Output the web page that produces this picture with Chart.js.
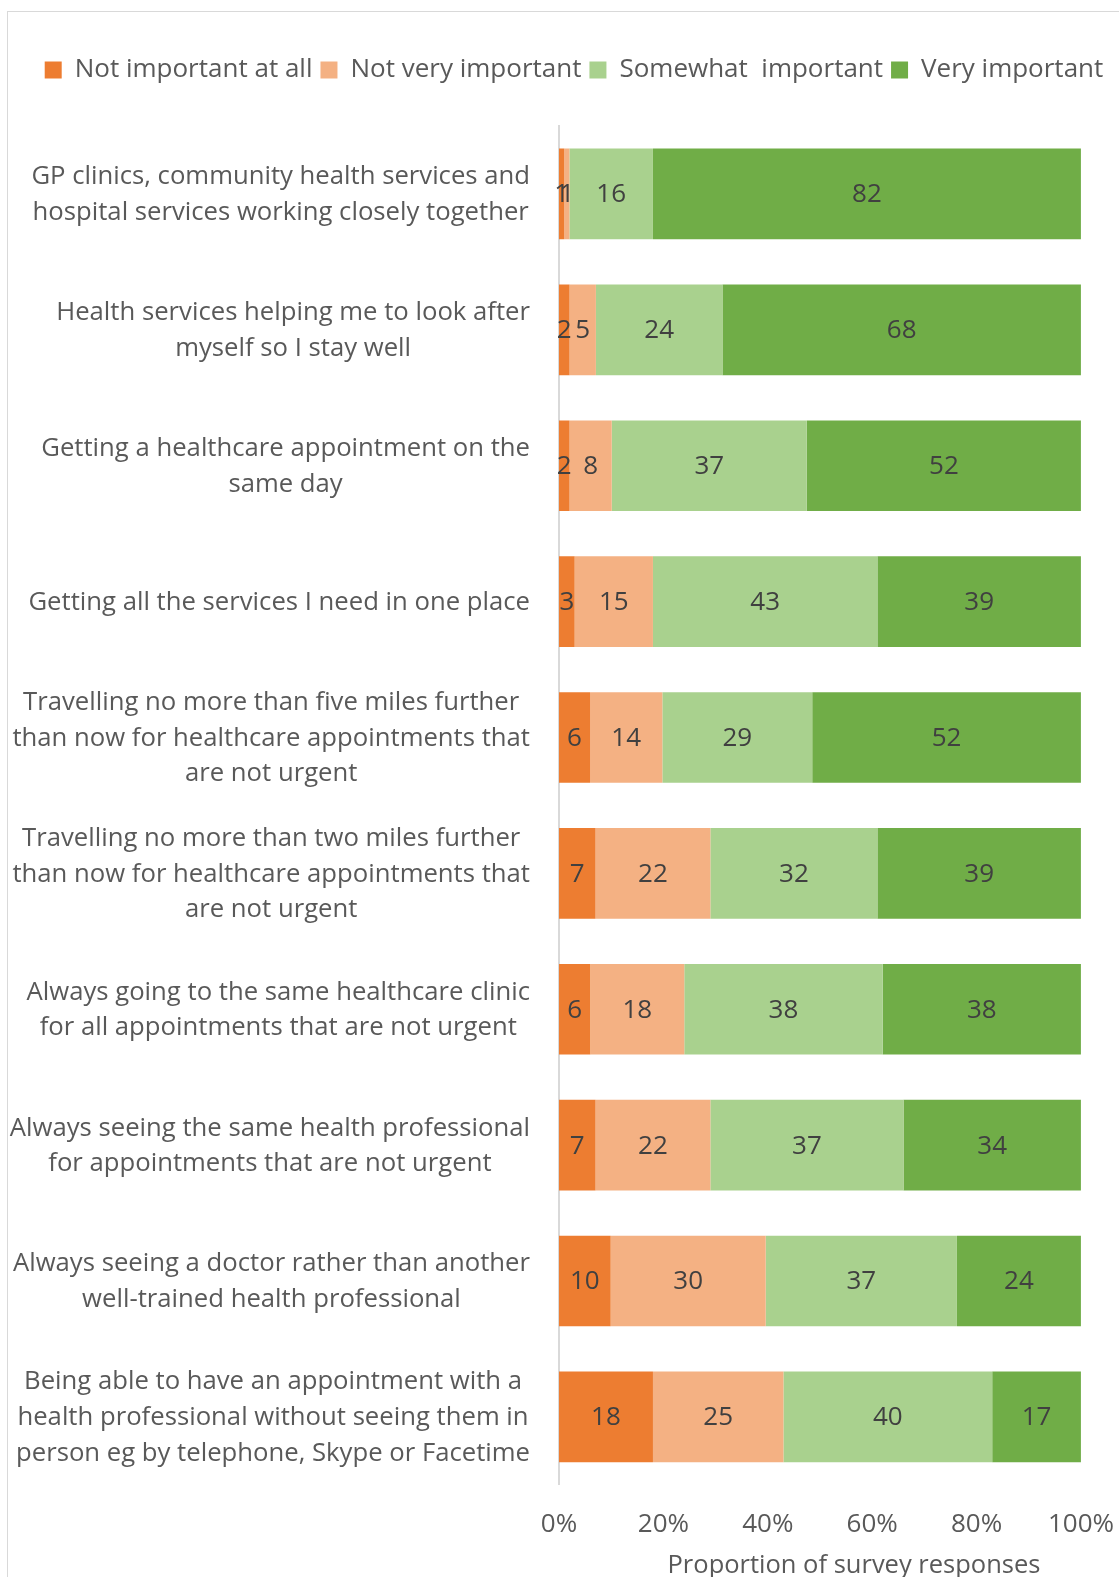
<!DOCTYPE html>
<html>
<head>
<meta charset="utf-8">
<script src="https://cdn.jsdelivr.net/npm/chart.js@4.4.1/dist/chart.umd.min.js"></script>
<style>
  html, body { margin: 0; padding: 0; background: #fff; overflow: hidden; }
  #frame { position: absolute; left: 7px; top: 11px; width: 1300px; height: 1800px; border: 1px solid #d9d9d9; }
  #wrap { position: absolute; left: 0; top: 0; width: 1119px; height: 1577px; }
</style>
</head>
<body>
<div id="frame"></div>
<div id="wrap"><canvas id="mainchart" width="1119" height="1577"></canvas></div>
<script>
// survey statements, top to bottom (already wrapped the way the original shows them)
var categories = [
  ["GP clinics, community health services and", "hospital services working closely together"],
  ["Health services helping me to look after", "myself so I stay well"],
  ["Getting a healthcare appointment on the", "same day"],
  ["Getting all the services I need in one place"],
  ["Travelling no more than five miles further", "than now for healthcare appointments that", "are not urgent"],
  ["Travelling no more than two miles further", "than now for healthcare appointments that", "are not urgent"],
  ["Always going to the same healthcare clinic", "for all appointments that are not urgent"],
  ["Always seeing the same health professional", "for appointments that are not urgent"],
  ["Always seeing a doctor rather than another", "well-trained health professional"],
  ["Being able to have an appointment with a", "health professional without seeing them in", "person eg by telephone, Skype or Facetime"]
];

var seriesNames = ["Not important at all", "Not very important", "Somewhat  important", "Very important"];

// responses in %, as labelled on the bars
var notImportant     = [1, 2, 2, 3, 6, 7, 6, 7, 10, 18];
var notVeryImportant = [1, 5, 8, 15, 14, 22, 18, 22, 30, 25];
var somewhat         = [16, 24, 37, 43, 29, 32, 38, 37, 37, 40];
var veryImportant    = [82, 68, 52, 39, 52, 39, 38, 34, 24, 17];

var xTicks = [0, 20, 40, 60, 80, 100];
var axisTitle = "Proportion of survey responses";

var barcolors = ["#ED7D31", "#F4B183", "#A9D18E", "#70AD47"];
var FONT = "'Open Sans', sans-serif";
var FS = 26;

var series = [notImportant, notVeryImportant, somewhat, veryImportant];
// 100% stacked: every row is scaled to its own total
var totals = categories.map(function (c, j) {
  return series.reduce(function (s, arr) { return s + arr[j]; }, 0);
});

var datasets = series.map(function (arr, i) {
  return {
    label: seriesNames[i],
    backgroundColor: barcolors[i],
    borderWidth: 0,
    data: arr.map(function (v, j) { return v / totals[j] * 100; }),
    barPercentage: 0.667,
    categoryPercentage: 1
  };
});

// extra room under the legend
var legendGap = {
  id: 'legendGap',
  beforeInit: function (chart) {
    if (!chart.legend) return;
    var fit = chart.legend.fit;
    chart.legend.fit = function () {
      fit.bind(chart.legend)();
      this.height += 33;
    };
  }
};

var labelsPlugin = {
  id: 'labelsPlugin',
  afterDatasetsDraw: function (chart) {
    var ctx = chart.ctx;
    ctx.save();
    ctx.font = FS + "px " + FONT;
    ctx.fillStyle = "#404040";
    ctx.textAlign = "center";
    ctx.textBaseline = "middle";
    chart.data.datasets.forEach(function (ds, i) {
      chart.getDatasetMeta(i).data.forEach(function (bar, j) {
        var p = bar.getProps(['x', 'y', 'base'], true);
        ctx.fillText(String(series[i][j]), (p.x + p.base) / 2, p.y + 1);
      });
    });
    ctx.restore();
  },
  afterDraw: function (chart) {
    var ctx = chart.ctx;
    var yScale = chart.scales.y;
    var xScale = chart.scales.x;
    ctx.save();
    ctx.font = "25.7px " + FONT;
    ctx.fillStyle = "#595959";
    ctx.textAlign = "center";
    ctx.textBaseline = "middle";
    var right = chart.chartArea.left - 29;
    var lh = 35.7;
    categories.forEach(function (lines, j) {
      var y = yScale.getPixelForValue(j);
      var w = 0;
      lines.forEach(function (l) { w = Math.max(w, ctx.measureText(l).width); });
      var cx = right - w / 2;
      var y0 = y - (lines.length - 1) * lh / 2;
      lines.forEach(function (l, k) { ctx.fillText(l, cx, y0 + k * lh + 1); });
    });
    // axis title sits a little right of the plot centre in the original
    ctx.font = "25.5px " + FONT;
    ctx.textBaseline = "alphabetic";
    ctx.fillText(axisTitle, (xScale.left + xScale.right) / 2 + 34, 1573);
    ctx.restore();
  }
};

Chart.defaults.font.family = FONT;
Chart.defaults.font.size = FS;
Chart.defaults.color = "#595959";

var chartInstance = new Chart("mainchart", {
  type: "bar",
  data: { labels: categories.map(function (c) { return c.join(" "); }), datasets: datasets },
  options: {
    responsive: false,
    animation: false,
    indexAxis: 'y',
    layout: { padding: { left: 29, right: 0, top: 49, bottom: 32 } },
    plugins: {
      legend: {
        position: 'top',
        labels: { boxWidth: 17, boxHeight: 17, padding: 8, color: "#595959", font: { size: FS } }
      },
      tooltip: { enabled: false }
    },
    scales: {
      x: {
        stacked: true,
        min: 0,
        max: 100,
        afterBuildTicks: function (s) { s.ticks = xTicks.map(function (v) { return { value: v }; }); },
        ticks: { callback: function (v) { return v + "%"; }, padding: 5, color: "#595959" },
        grid: { display: false, drawTicks: true, tickLength: 19 },
        border: { display: false }
      },
      y: {
        stacked: true,
        ticks: { display: false },
        grid: { display: false, drawTicks: false },
        border: { display: true, color: "#d9d9d9", width: 2 },
        afterFit: function (s) { s.width = 530; }
      }
    }
  },
  plugins: [legendGap, labelsPlugin]
});
</script>
</body>
</html>
